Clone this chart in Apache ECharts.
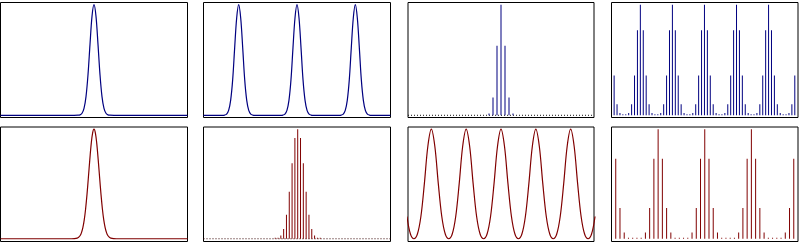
<!DOCTYPE html>
<html>
<head>
<meta charset="utf-8">
<script src="https://cdn.jsdelivr.net/npm/echarts@6/dist/echarts.min.js"></script>
<style>html,body{margin:0;padding:0;background:#fff}#c{width:800px;height:244px}</style>
</head>
<body>
<div id="c"></div>
<script>
// ---- Data ----
// Panel 1: continuous Gaussian (x in sample units)
const p1X = [-23.4, -5, -4, -3.5, -3, -2.5, -2, -1.5, -1, -0.5, 0, 0.5, 1, 1.5, 2, 2.5, 3, 3.5, 4, 5, 23.4];
const p1Y = [0, 0, 0.001, 0.004, 0.018, 0.062, 0.169, 0.368, 0.641, 0.895, 1, 0.895, 0.641, 0.368, 0.169, 0.062, 0.018, 0.004, 0.001, 0, 0];

// Panel 2: periodic Gaussian, three peaks
const p2X = [-23.25,
  -18.5, -18, -17.5, -17, -16.5, -16, -15.5, -15, -14.5, -14, -13.5, -13, -12.5, -12, -11.5, -11, -10.5,
  -4, -3.5, -3, -2.5, -2, -1.5, -1, -0.5, 0, 0.5, 1, 1.5, 2, 2.5, 3, 3.5, 4,
  10.5, 11, 11.5, 12, 12.5, 13, 13.5, 14, 14.5, 15, 15.5, 16, 16.5, 17, 17.5, 18, 18.5,
  23.25];
const p2Y = [0,
  0, 0.002, 0.011, 0.044, 0.135, 0.32, 0.61, 0.88, 1, 0.88, 0.61, 0.32, 0.135, 0.044, 0.011, 0.002, 0,
  0, 0.002, 0.011, 0.044, 0.135, 0.32, 0.61, 0.88, 1, 0.88, 0.61, 0.32, 0.135, 0.044, 0.011, 0.002, 0,
  0, 0.002, 0.011, 0.044, 0.135, 0.32, 0.61, 0.88, 1, 0.88, 0.61, 0.32, 0.135, 0.044, 0.011, 0.002, 0,
  0];

// Panel 3: sampled Gaussian
const p3N = [-3, -2, -1, 0, 1, 2, 3];
const p3V = [0.016, 0.16, 0.63, 1, 0.63, 0.16, 0.016];

// Panel 4: periodic sampled spectrum
const p4K = [];
for (let k = -9; k <= 53; k++) p4K.push(k);
const p4V = [0.36, 0.10, 0.02, 0.006, 0.006, 0.02, 0.10, 0.36, 0.77,
  1, 0.77, 0.36, 0.10, 0.02, 0.006, 0.006, 0.02, 0.10, 0.36, 0.77,
  1, 0.77, 0.36, 0.10, 0.02, 0.006, 0.006, 0.02, 0.10, 0.36, 0.77,
  1, 0.77, 0.36, 0.10, 0.02, 0.006, 0.006, 0.02, 0.10, 0.36, 0.77,
  1, 0.77, 0.36, 0.10, 0.02, 0.006, 0.006, 0.02, 0.10, 0.36, 0.77,
  1, 0.77, 0.36, 0.10, 0.02, 0.006, 0.006, 0.02, 0.10, 0.36];

// Panel 5: continuous Gaussian (wider)
const p5X = [-33.4, -8, -7, -6, -5.5, -5, -4.5, -4, -3.5, -3, -2.5, -2, -1.5, -1, -0.5, 0, 0.5, 1, 1.5, 2, 2.5, 3, 3.5, 4, 4.5, 5, 5.5, 6, 7, 8, 33.4];
const p5Y = [0, 0, 0.001, 0.006, 0.013, 0.027, 0.054, 0.099, 0.170, 0.272, 0.405, 0.561, 0.722, 0.866, 0.965, 1, 0.965, 0.866, 0.722, 0.561, 0.405, 0.272, 0.170, 0.099, 0.054, 0.027, 0.013, 0.006, 0.001, 0, 0];

// Panel 6: densely sampled Gaussian
const p6N = [-8, -7, -6, -5, -4, -3, -2, -1, 0, 1, 2, 3, 4, 5, 6, 7, 8];
const p6V = [0.002, 0.008, 0.03, 0.09, 0.22, 0.43, 0.69, 0.92, 1, 0.92, 0.69, 0.43, 0.22, 0.09, 0.03, 0.008, 0.002];

// Panel 7: periodic continuous (x in periods)
const p7X = [-2.7, -2.6, -2.5, -2.4, -2.3, -2.2, -2.1, -2.0, -1.9, -1.8, -1.7, -1.6, -1.5, -1.4, -1.3, -1.2, -1.1, -1.0,
  -0.9, -0.8, -0.7, -0.6, -0.5, -0.4, -0.3, -0.2, -0.1, 0, 0.1, 0.2, 0.3, 0.4, 0.5, 0.6, 0.7, 0.8, 0.9,
  1.0, 1.1, 1.2, 1.3, 1.4, 1.5, 1.6, 1.7, 1.8, 1.9, 2.0, 2.1, 2.2, 2.3, 2.4, 2.5, 2.6, 2.7];
const p7Y = [0.203, 0.043, 0, 0.043, 0.203, 0.503, 0.844, 1, 0.844, 0.503, 0.203, 0.043, 0, 0.043, 0.203, 0.503, 0.844, 1,
  0.844, 0.503, 0.203, 0.043, 0, 0.043, 0.203, 0.503, 0.844, 1, 0.844, 0.503, 0.203, 0.043, 0, 0.043, 0.203, 0.503, 0.844,
  1, 0.844, 0.503, 0.203, 0.043, 0, 0.043, 0.203, 0.503, 0.844, 1, 0.844, 0.503, 0.203, 0.043, 0, 0.043, 0.203];

// Panel 8: periodic sampled spectrum
const p8K = [];
for (let k = -10; k <= 32; k++) p8K.push(k);
const p8V = [0.73, 0.28, 0.057, 0.006, 0.001, 0.001, 0.006, 0.057, 0.28, 0.73,
  1, 0.73, 0.28, 0.057, 0.006, 0.001, 0.001, 0.006, 0.057, 0.28, 0.73,
  1, 0.73, 0.28, 0.057, 0.006, 0.001, 0.001, 0.006, 0.057, 0.28, 0.73,
  1, 0.73, 0.28, 0.057, 0.006, 0.001, 0.001, 0.006, 0.057, 0.28, 0.73];

// x ranges for each panel
const xRanges = [[-23.4, 23.4], [-23.25, 23.25], [-23.25, 23.25], [-9.9, 54.1],
                 [-33.4, 33.4], [-33.5, 33], [-2.67, 2.67], [-11, 33]];

// ---- Layout / styles ----
const BLUE = '#000080', RED = '#800000';
const rects = [
  {left: 0.5, top: 2.5, width: 187, height: 115},
  {left: 203.5, top: 2.5, width: 187, height: 115},
  {left: 408, top: 2.5, width: 186, height: 115},
  {left: 611.5, top: 2.5, width: 186.5, height: 115},
  {left: 0.5, top: 127, width: 187, height: 114.5},
  {left: 203.5, top: 127, width: 187, height: 114.5},
  {left: 408, top: 127, width: 186, height: 114.5},
  {left: 611.5, top: 127, width: 186.5, height: 114.5}
];
const zip = (a, b) => a.map((v, i) => [v, b[i]]);

const grid = rects.map(r => Object.assign({show: true, borderColor: '#000', borderWidth: 1, backgroundColor: '#fff', containLabel: false}, r));
const hidden = {axisLine: {show: false}, axisTick: {show: false}, axisLabel: {show: false}, splitLine: {show: false}};
const xAxis = xRanges.map((rg, i) => Object.assign({type: 'value', gridIndex: i, min: rg[0], max: rg[1]}, hidden));
const yAxis = rects.map((r, i) => Object.assign({type: 'value', gridIndex: i, min: i < 4 ? -0.02 : -0.025, max: 1.02}, hidden));

function curve(i, x, y, color) {
  return {type: 'line', xAxisIndex: i, yAxisIndex: i, data: zip(x, y), showSymbol: false, smooth: 0.35,
    lineStyle: {color: color, width: 1.2}, silent: true};
}
function stems(i, x, y, color) {
  return {type: 'bar', xAxisIndex: i, yAxisIndex: i, data: zip(x, y), barWidth: 1, barMinHeight: 1,
    itemStyle: {color: color}, silent: true, z: 3};
}
function dotted(i, color) {
  return {type: 'line', xAxisIndex: i, yAxisIndex: i, data: [[xRanges[i][0], 0], [xRanges[i][1], 0]],
    showSymbol: false, lineStyle: {color: color, width: 1, type: [1, 2]}, silent: true, z: 2};
}

const series = [
  curve(0, p1X, p1Y, BLUE),
  curve(1, p2X, p2Y, BLUE),
  dotted(2, '#111'),
  stems(2, p3N, p3V, BLUE),
  stems(3, p4K, p4V, BLUE),
  curve(4, p5X, p5Y, RED),
  dotted(5, '#300'),
  stems(5, p6N, p6V, RED),
  curve(6, p7X, p7Y, RED),
  stems(7, p8K, p8V, RED)
];

const chart = echarts.init(document.getElementById('c'), null, {renderer: 'canvas'});
chart.setOption({animation: false, backgroundColor: '#fff', grid, xAxis, yAxis, series});
</script>
</body>
</html>
